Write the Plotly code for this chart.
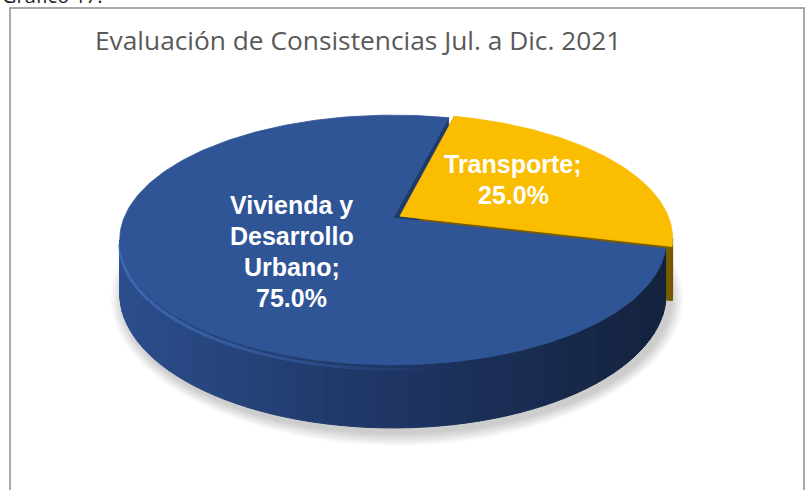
import numpy as np
import plotly.graph_objects as go

# ---------------- data ----------------
categories = ["Vivienda y Desarrollo Urbano", "Transporte"]
values = [75.0, 25.0]
label_lines = [["Vivienda y", "Desarrollo", "Urbano;"], ["Transporte;"]]
title_text = "Evaluación de Consistencias Jul. a Dic. 2021"
caption_text = "Gráfico 17."

# ---------------- style / geometry ----------------
top_colors = ["#2F5597", "#FABD00"]
face_colors = ["#1F3A6A", "#7A5C00"]
wall_left = [(44, 78, 140), (150, 118, 0)]
wall_mid = [(30, 52, 98), (130, 100, 0)]
wall_right = [(20, 35, 62), (110, 84, 0)]
explode = [0.0, 0.03]
START_DEG = 76.0
CX, CY, SX, SY, K, DEPTH = 393.0, 218.0, 269.0, 121.0, 0.176, 52.0
LABEL_R = [0.445, 0.55]
LABEL_DA = [5.4, 4.4]
LINE_GAP = 31.0
LABEL_FONT = "Liberation Sans, Arial, sans-serif"
LABEL_SIZE = 25


def proj(X, Z, h):
    w = 1 + K * Z
    return CX + SX * X / w, CY - SY * Z / w + DEPTH * h / w


total = sum(values)
fracs = [v / total for v in values]
bounds = []
a = START_DEG
for f in fracs:
    bounds.append((a, a + 360 * f))
    a += 360 * f

fig = go.Figure()


def poly(xs, ys, color, lw=0.8, lcolor=None):
    xs = list(xs) + [xs[0]]
    ys = list(ys) + [ys[0]]
    fig.add_trace(go.Scatter(x=xs, y=ys, mode="lines", fill="toself",
                             fillcolor=color,
                             line=dict(color=lcolor or color, width=lw),
                             hoverinfo="skip", showlegend=False))


def rgb(c):
    return "rgb(%d,%d,%d)" % tuple(int(round(v)) for v in c)


def wall_color(i, x):
    l, m, r = wall_left[i], wall_mid[i], wall_right[i]
    if x <= 400:
        t = max(0, (x - 120) / 280)
        return [l[j] + (m[j] - l[j]) * t for j in range(3)]
    t = min(1, (x - 400) / 260)
    return [m[j] + (r[j] - m[j]) * t for j in range(3)]


# ---- shadow ----
tt = np.radians(np.linspace(0, 360, 181))
bx, by = proj(np.cos(tt), np.sin(tt), 1.0)
ecx, ecy = bx.mean(), by.mean()
for j in range(1, 11):
    dx = bx - ecx
    dy = by - ecy
    rr = np.hypot(dx, dy)
    sxs = ecx + 4 + dx * (1 + j * 1.3 / rr)
    sys_ = ecy + 5 + dy * (1 + j * 1.3 / rr)
    poly(sxs, sys_, "rgba(0,0,0,0.02)", lw=0)

sil = np.degrees(np.arcsin(K))
front = (180 + sil, 360 - sil)

order = sorted(range(len(values)), key=lambda i: -explode[i])

geo = []
for i in range(len(values)):
    a0, a1 = bounds[i]
    mid = np.radians((a0 + a1) / 2)
    ox, oz = explode[i] * np.cos(mid), explode[i] * np.sin(mid)
    geo.append((a0, a1, ox, oz))

# ---- radial faces (visible ones) ----
for i in order:
    a0, a1, ox, oz = geo[i]
    for ang, nrm in ((a0, a0 - 90), (a1, a1 + 90)):
        if np.sin(np.radians(nrm)) < 0.3:
            r = np.radians(ang)
            p = [proj(ox, oz, 0), proj(np.cos(r) + ox, np.sin(r) + oz, 0),
                 proj(np.cos(r) + ox, np.sin(r) + oz, 1), proj(ox, oz, 1)]
            poly([q[0] for q in p], [q[1] for q in p], face_colors[i])

for i in order:
    a0, a1, ox, oz = geo[i]
    # ---- outer wall (front visible part) ----
    for shift in (0, 360, -360):
        lo = max(a0 + shift, front[0])
        hi = min(a1 + shift, front[1])
        if hi > lo:
            n = max(2, int((hi - lo) / 2.5))
            ts = np.linspace(lo, hi, n + 1)
            for j in range(n):
                r0, r1 = np.radians(ts[j]), np.radians(ts[j + 1])
                p = [proj(np.cos(r0) + ox, np.sin(r0) + oz, 0),
                     proj(np.cos(r1) + ox, np.sin(r1) + oz, 0),
                     proj(np.cos(r1) + ox, np.sin(r1) + oz, 1),
                     proj(np.cos(r0) + ox, np.sin(r0) + oz, 1)]
                xm = (p[0][0] + p[1][0]) / 2
                c = rgb(wall_color(i, xm))
                poly([q[0] for q in p], [q[1] for q in p], c, lw=1)
            # rim highlight band on top of the wall
            if i == 0:
                for j in range(n):
                    r0, r1 = np.radians(ts[j]), np.radians(ts[j + 1])
                    x0, y0 = proj(np.cos(r0) + ox, np.sin(r0) + oz, 0.07)
                    x1, y1 = proj(np.cos(r1) + ox, np.sin(r1) + oz, 0.07)
                    alpha = max(0.0, 0.7 * (1 - (x0 - 120) / 330))
                    if alpha > 0.02:
                        fig.add_trace(go.Scatter(x=[x0, x1], y=[y0, y1], mode="lines",
                                                 line=dict(color="rgba(70,115,195,%.2f)" % alpha, width=3),
                                                 hoverinfo="skip", showlegend=False))
    # ---- top face ----
    ts = np.radians(np.linspace(a0, a1, max(3, int(a1 - a0))))
    xs, ys = proj(np.cos(ts) + ox, np.sin(ts) + oz, 0)
    axp, ayp = proj(ox, oz, 0)
    poly([axp] + list(xs), [ayp] + list(ys), top_colors[i], lw=0.8)

# ---- labels ----
annotations = []
for i in range(len(values)):
    a0, a1, ox, oz = geo[i]
    ang = np.radians((a0 + a1) / 2 + LABEL_DA[i])
    lx, ly = proj(LABEL_R[i] * np.cos(ang) + ox, LABEL_R[i] * np.sin(ang) + oz, 0)
    lines = label_lines[i] + ["%.1f%%" % (100 * fracs[i])]
    n = len(lines)
    for j, t in enumerate(lines):
        annotations.append(dict(x=lx, y=ly + (j - (n - 1) / 2) * LINE_GAP, text="<b>%s</b>" % t,
                                showarrow=False, xanchor="center", yanchor="middle",
                                font=dict(family=LABEL_FONT, size=LABEL_SIZE, color="white")))

annotations.append(dict(x=93, y=40, text=title_text, showarrow=False, xanchor="left",
                        yanchor="middle", font=dict(family="Open Sans, Segoe UI, sans-serif",
                                                    size=26.3, color="#595959")))
annotations.append(dict(x=0, y=11, text=caption_text, showarrow=False, xanchor="left",
                        yanchor="bottom", font=dict(family="Open Sans, sans-serif",
                                                    size=20, color="#222222")))

fig.update_layout(
    width=808, height=490,
    margin=dict(l=0, r=0, t=0, b=0),
    paper_bgcolor="white", plot_bgcolor="white",
    showlegend=False,
    xaxis=dict(range=[0, 808], visible=False, fixedrange=True),
    yaxis=dict(range=[490, 0], visible=False, fixedrange=True),
    annotations=annotations,
    shapes=[dict(type="rect", xref="x", yref="y", x0=10, x1=804, y0=8, y1=520,
                 line=dict(color="#8C8C8C", width=1.5), layer="below")],
)

fig.write_html("out.html", config={"displayModeBar": False},
               post_script="document.body.style.margin='0px';")
